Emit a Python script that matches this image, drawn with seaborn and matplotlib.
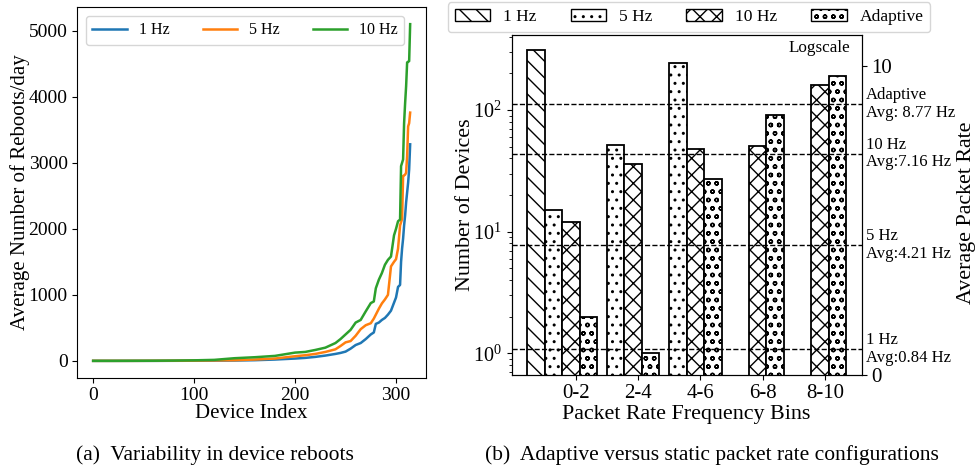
import numpy as np
import pandas as pd
import matplotlib
matplotlib.use("Agg")
import matplotlib.pyplot as plt
import matplotlib.patches as mpatches
import seaborn as sns

# ---- (a) average reboots/day per device (sorted) ----
device_idx = [0, 20, 40, 60, 80, 100, 120, 140, 160, 180, 200, 210, 220, 230, 240, 245,
              250, 255, 260, 265, 270, 275, 278, 280, 283, 286, 289, 292, 295, 298, 300,
              302, 304, 305, 306, 307, 308, 309, 310, 311, 312, 313, 314]
reboots_1hz = [0, 0, 0, 0, 1, 2, 3, 5, 10, 20, 35, 45, 60, 80, 105, 120,
               140, 185, 240, 270, 330, 400, 430, 560, 580, 620, 650, 700, 760, 880, 960,
               1120, 1150, 1500, 1700, 1850, 2050, 2200, 2400, 2550, 2700, 2900, 3280]
reboots_5hz = [0, 0, 0, 1, 2, 4, 7, 10, 20, 35, 70, 85, 105, 135, 175, 225,
               280, 300, 380, 480, 540, 570, 640, 700, 790, 870, 930, 1000, 1430, 1500, 1540,
               1700, 2050, 2100, 2150, 2800, 2810, 2820, 2850, 3100, 3550, 3600, 3760]
reboots_10hz = [0, 0, 1, 2, 4, 8, 15, 40, 55, 75, 125, 135, 165, 200, 270, 330,
                400, 470, 580, 620, 750, 875, 900, 1100, 1230, 1330, 1455, 1530, 1580, 1900, 2000,
                2115, 2140, 2950, 3000, 3050, 3600, 3900, 4160, 4520, 4530, 4540, 5100]
line_labels = ["1 Hz", "5 Hz", "10 Hz"]

# ---- (b) number of devices per packet-rate bin (None = no bar) ----
bins = ["0-2", "2-4", "4-6", "6-8", "8-10"]
configs = ["1 Hz", "5 Hz", "10 Hz", "Adaptive"]
count_1hz = [311, None, None, None, None]
count_5hz = [15, 52, 245, None, None]
count_10hz = [12, 36, 48, 51, 162]
count_adaptive = [2, 1, 27, 91, 190]
hatches = ["\\\\", "..", "xx", "oo"]

avg_rates = [8.77, 7.16, 4.21, 0.84]
avg_texts = ["Adaptive\nAvg: 8.77 Hz", "10 Hz\nAvg:7.16 Hz", "5 Hz\nAvg:4.21 Hz", "1 Hz\nAvg:0.84 Hz"]

plt.rcParams["font.family"] = ["Liberation Serif", "DejaVu Serif"]
plt.rcParams["mathtext.fontset"] = "custom"
plt.rcParams["mathtext.rm"] = "Liberation Serif"
plt.rcParams["mathtext.it"] = "Liberation Serif:italic"

fig = plt.figure(figsize=(9.8, 4.72), dpi=100)
fig.patch.set_facecolor("white")

# ---------------- left panel ----------------
ax = fig.add_axes([0.0789, 0.1998, 0.3558, 0.7847])
colors = sns.color_palette("tab10", 3)
for vals, name, c in zip([reboots_1hz, reboots_5hz, reboots_10hz], line_labels, colors):
    sns.lineplot(x=device_idx, y=vals, label=name, color=c, lw=1.8, ax=ax)

ax.set_xticks([0, 100, 200, 300])
ax.set_yticks([0, 1000, 2000, 3000, 4000, 5000])
ax.tick_params(labelsize=14)
ax.set_xlabel("Device Index", fontsize=15)
ax.set_ylabel("Average Number of Reboots/day", fontsize=15)
ax.xaxis.set_label_coords(0.5, -0.096)
ax.xaxis.label.set_va("center")
ax.yaxis.set_label_coords(-0.164, 0.5)
ax.yaxis.label.set_va("center")
ax.legend(loc="upper left", bbox_to_anchor=(0.025, 0.9765), borderaxespad=0, ncol=3,
          fontsize=11.5, handlelength=2.15, handletextpad=0.77, columnspacing=2.05)

# ---------------- right panel ----------------
rows = []
for cfg, counts in zip(configs, [count_1hz, count_5hz, count_10hz, count_adaptive]):
    for b, cnt in zip(bins, counts):
        if cnt is not None:
            rows.append((b, cfg, cnt))
df_b = pd.DataFrame(rows, columns=["bin", "config", "count"])

axb = fig.add_axes([0.5221, 0.2049, 0.3571, 0.7216])
sns.barplot(data=df_b, x="bin", y="count", hue="config", order=bins, hue_order=configs,
            palette={c: "white" for c in configs}, width=1.12, edgecolor="black",
            linewidth=1.3, legend=False, ax=axb)
for cont, h in zip(axb.containers, hatches):
    for p in cont:
        p.set_hatch(h)

axb.set_yscale("log")
axb.set_ylim(0.66, 416)
axb.set_xlim(-0.813, 4.81)
axb.set_xticks(np.arange(len(bins)) + 0.22, bins)
axb.tick_params(axis="x", labelsize=15, pad=2.5)
axb.tick_params(axis="y", labelsize=14.5)
axb.set_xlabel("Packet Rate Frequency Bins", fontsize=15.8)
axb.set_ylabel("Number of Devices", fontsize=15.8)
axb.xaxis.set_label_coords(0.5, -0.114)
axb.xaxis.label.set_va("center")
axb.yaxis.set_label_coords(-0.133, 0.5)
axb.yaxis.label.set_va("center")
axb.text(0.9686, 0.96, "Logscale", transform=axb.transAxes, ha="right", va="center", fontsize=12.3)

ax2 = axb.twinx()
ax2.set_ylim(0, 11)
ax2.set_yticks([0, 10])
ax2.tick_params(labelsize=15)
for val, txt in zip(avg_rates, avg_texts):
    ax2.axhline(val, color="black", ls="--", lw=1)
    ax2.text(1.0114, val, txt, transform=ax2.get_yaxis_transform(), ha="left", va="center",
             fontsize=12, linespacing=1.15)
ax2.set_ylabel("Average Packet Rate", fontsize=15.8)
ax2.yaxis.set_label_coords(1.30, 0.476)
ax2.yaxis.label.set_va("center")

handles = [mpatches.Patch(facecolor="white", edgecolor="black", hatch=h, label=c)
           for c, h in zip(configs, hatches)]
axb.legend(handles=handles, loc="lower center", bbox_to_anchor=(0.507, 1.007), borderaxespad=0,
           ncol=4, fontsize=12.6, handlelength=2.04, handletextpad=0.73, columnspacing=1.94)

fig.text(0.2194, 0.036, "(a)  Variability in device reboots", ha="center", va="center", fontsize=15.5)
fig.text(0.7265, 0.036, "(b)  Adaptive versus static packet rate configurations", ha="center",
         va="center", fontsize=15.5)

fig.savefig("out.png", dpi=100, facecolor="white")
